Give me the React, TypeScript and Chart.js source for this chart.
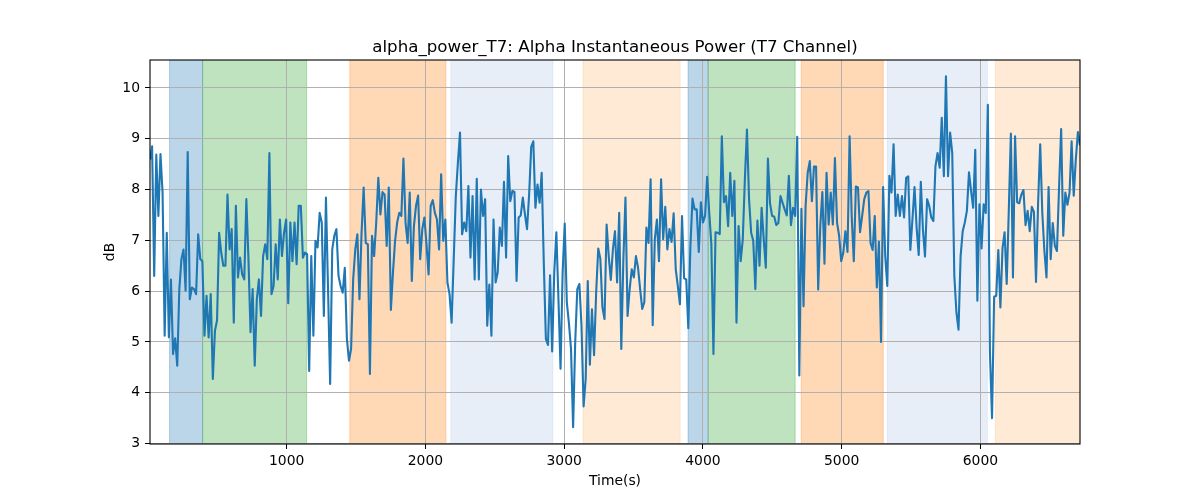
import React, { useEffect, useRef } from "react";
import { Chart, registerables } from "chart.js";

Chart.register(...registerables);

// time range of the recording (s)
const T_START = 15;
const T_END = 6718;

// alpha power, dB, evenly sampled from T_START to T_END
const ALPHA_DB = [
  8.59, 8.85, 6.30, 8.69, 7.48, 8.70, 7.94, 5.12, 7.15, 5.09, 6.23, 4.76, 5.07, 4.53, 6.04, 6.63, 6.82, 6.01, 8.74, 5.84,
  6.07, 6.04, 5.94, 7.12, 6.63, 6.59, 5.12, 5.91, 5.09, 5.94, 4.27, 5.22, 5.42, 7.15, 6.76, 6.50, 6.50, 7.90, 6.82, 7.22,
  5.38, 7.68, 6.27, 6.66, 6.33, 6.23, 7.81, 6.63, 5.19, 6.04, 4.53, 5.84, 6.23, 5.51, 6.69, 6.92, 6.63, 8.72,
  5.94, 6.10, 6.92, 6.23, 7.41, 6.69, 7.15, 7.41, 5.76, 7.35, 6.59, 7.35, 6.53, 7.68, 7.68, 6.66, 6.76, 6.73, 4.43, 6.69,
  5.12, 6.99, 6.86, 7.54, 7.35, 5.51, 7.84, 6.04, 4.17, 6.82, 7.09, 7.22, 6.30, 6.10, 5.97, 6.46, 5.06, 4.63, 4.86, 6.23,
  6.82, 7.12, 5.84, 7.15, 8.04, 6.95, 6.92, 4.37, 7.09, 6.69, 7.35, 8.23, 7.51, 7.95, 7.90, 6.89, 8.04,
  5.63, 6.37, 6.99, 7.35, 7.54, 7.48, 8.61, 7.35, 6.95, 7.94, 6.20, 7.28, 7.68, 7.88, 6.63, 7.22, 7.45, 6.92, 6.33, 7.68,
  7.79, 7.54, 7.41, 6.82, 8.30, 6.99, 7.41, 6.17, 5.94, 5.38, 6.63, 7.87, 8.53, 9.12, 7.12, 7.35, 7.18, 8.07, 6.66, 7.87,
  6.23, 8.21, 6.23, 8.00, 7.48, 7.81, 5.32, 6.13, 5.12, 7.41, 6.17, 6.37, 7.25, 6.89, 8.15, 6.66, 8.66,
  7.77, 7.97, 7.95, 6.20, 7.45, 7.49, 7.84, 7.51, 7.22, 7.90, 8.84, 8.95, 7.64, 8.10, 7.74, 8.33, 6.56, 5.06, 4.94, 6.31,
  4.81, 6.37, 7.16, 5.84, 4.47, 6.37, 7.33, 5.78, 5.37, 4.86, 3.32, 4.99, 6.04, 6.14, 5.32, 3.73, 4.27, 6.20, 4.55, 5.64,
  4.74, 5.97, 6.84, 6.64, 5.68, 5.45, 7.31, 6.69, 6.22, 6.82, 7.18, 6.17, 7.54, 4.86, 6.63, 7.84, 5.51,
  6.04, 6.43, 6.27, 6.69, 6.46, 6.04, 5.65, 5.78, 7.25, 6.95, 8.20, 5.33, 7.02, 7.41, 6.59, 8.20, 7.02, 7.66, 6.82, 7.22,
  6.97, 7.53, 6.43, 6.10, 5.74, 7.48, 6.25, 6.23, 5.27, 6.89, 7.82, 7.61, 7.61, 6.77, 7.75, 7.35, 7.48, 8.25, 7.54, 6.92,
  4.76, 7.16, 7.15, 7.12, 9.05, 7.75, 7.87, 7.28, 8.33, 7.48, 8.17, 5.38, 7.28, 6.59, 7.02, 8.20, 9.18, 7.81,
  7.15, 6.99, 6.04, 7.39, 6.50, 7.64, 7.02, 6.46, 8.61, 7.73, 7.48, 7.47, 7.30, 7.34, 7.87, 7.74, 7.61, 7.49, 8.27, 7.30,
  7.64, 7.48, 9.04, 4.34, 7.62, 5.70, 7.68, 8.33, 8.56, 7.77, 8.45, 8.45, 6.03, 7.28, 7.95, 6.54, 8.33, 7.31, 7.94, 7.31,
  8.62, 7.35, 7.09, 6.59, 6.76, 7.18, 6.77, 9.05, 7.48, 6.59, 8.06, 8.04, 7.16, 7.48, 7.81, 7.94, 7.97, 6.95,
  6.81, 7.48, 6.07, 6.97, 5.00, 8.05, 6.69, 6.10, 8.27, 7.94, 8.89, 7.48, 7.90, 7.48, 7.87, 7.45, 8.23, 8.26, 6.81, 7.41,
  8.05, 7.25, 6.71, 8.15, 7.22, 6.68, 7.81, 7.68, 7.45, 7.38, 8.46, 8.72, 8.43, 9.41, 8.26, 10.23, 8.26, 9.12, 8.72, 6.30,
  5.58, 5.24, 6.69, 7.18, 7.35, 7.58, 8.34, 7.97, 7.64, 8.78, 5.81, 7.71, 6.84, 7.71, 7.54, 9.67, 4.79,
  3.50, 5.89, 5.91, 6.81, 5.68, 6.84, 7.16, 6.14, 7.58, 9.10, 6.27, 9.05, 7.75, 7.73, 7.90, 7.99, 7.30, 7.58, 7.18, 7.66,
  7.56, 6.18, 7.74, 8.89, 7.54, 6.79, 6.27, 8.05, 6.63, 7.34, 6.89, 6.79, 8.04, 9.19, 7.09, 7.94, 7.70, 7.94, 8.95, 7.88,
  8.59, 9.13, 8.87,
];

const X_TICKS = [1000, 2000, 3000, 4000, 5000, 6000];
const Y_TICKS = [3, 4, 5, 6, 7, 8, 9, 10];

// shaded stages (s)
const SPAN_STARTS = [156, 394, 1455, 2183, 3136, 3893, 4038, 4709, 5329, 6108];
const SPAN_ENDS = [394, 1144, 2147, 2919, 3836, 4038, 4665, 5300, 6050, 6760];
const SPAN_KINDS = ["blue", "green", "orange", "lightblue", "lightorange", "blue", "green", "orange", "lightblue", "lightorange"];

const TITLE = "alpha_power_T7: Alpha Instantaneous Power (T7 Channel)";

const SPAN_COLORS: Record<string, string> = {
  blue: "rgba(31,119,180,0.3)",
  green: "rgba(44,160,44,0.3)",
  orange: "rgba(255,127,14,0.3)",
  lightblue: "rgba(174,199,232,0.3)",
  lightorange: "rgba(255,187,120,0.3)",
};

const FONT = "'DejaVu Sans', sans-serif";

const spanPlugin = {
  id: "spans",
  beforeDraw(chart: any) {
    const { ctx, chartArea, scales } = chart;
    const xs = scales.x;
    ctx.save();
    ctx.beginPath();
    ctx.rect(chartArea.left, chartArea.top, chartArea.right - chartArea.left, chartArea.bottom - chartArea.top);
    ctx.clip();
    SPAN_STARTS.forEach((s, i) => {
      const x0 = xs.getPixelForValue(s);
      const x1 = xs.getPixelForValue(SPAN_ENDS[i]);
      const col = SPAN_COLORS[SPAN_KINDS[i]];
      ctx.fillStyle = col;
      ctx.fillRect(x0, chartArea.top, x1 - x0, chartArea.bottom - chartArea.top);
      ctx.strokeStyle = col;
      ctx.lineWidth = 1;
      ctx.beginPath();
      ctx.moveTo(x0, chartArea.top);
      ctx.lineTo(x0, chartArea.bottom);
      ctx.moveTo(x1, chartArea.top);
      ctx.lineTo(x1, chartArea.bottom);
      ctx.stroke();
    });
    ctx.restore();
  },
};

// axes frame plus a title centred over the plot area, like matplotlib
const framePlugin = {
  id: "frame",
  afterDraw(chart: any) {
    const { ctx, chartArea } = chart;
    ctx.save();
    ctx.strokeStyle = "#000";
    ctx.lineWidth = 1.1;
    ctx.strokeRect(chartArea.left, chartArea.top, chartArea.right - chartArea.left, chartArea.bottom - chartArea.top);
    ctx.fillStyle = "#000";
    ctx.font = `16.67px ${FONT}`;
    ctx.textAlign = "center";
    ctx.textBaseline = "alphabetic";
    ctx.fillText(TITLE, (chartArea.left + chartArea.right) / 2, chartArea.top - 8.3);
    ctx.restore();
  },
};

const App = () => {
  const canvasRef = useRef<HTMLCanvasElement | null>(null);

  useEffect(() => {
    const ctx = canvasRef.current?.getContext("2d");
    if (!ctx) return;
    const step = (T_END - T_START) / (ALPHA_DB.length - 1);
    const points = ALPHA_DB.map((v, i) => ({ x: T_START + i * step, y: v }));

    const chart = new Chart(ctx, {
      type: "line",
      data: {
        datasets: [
          {
            data: points,
            borderColor: "#1f77b4",
            borderWidth: 2.1,
            pointRadius: 0,
            tension: 0,
            borderJoinStyle: "round",
            fill: false,
          },
        ],
      },
      options: {
        animation: false,
        responsive: true,
        maintainAspectRatio: false,
        layout: { padding: { left: 0, right: 120, top: 60, bottom: 0 } },
        plugins: {
          legend: { display: false },
          tooltip: { enabled: false },
          title: { display: false },
        },
        scales: {
          x: {
            type: "linear",
            min: T_START,
            max: T_END,
            afterBuildTicks: (axis: any) => {
              axis.ticks = X_TICKS.map((v) => ({ value: v }));
            },
            afterFit: (axis: any) => {
              axis.height = 56;
            },
            border: { display: false },
            grid: { color: "#b0b0b0", lineWidth: 1, drawTicks: true, tickLength: 5, tickColor: "#000" },
            ticks: {
              color: "#000",
              font: { family: FONT, size: 13.9 },
              padding: 4,
              maxRotation: 0,
              autoSkip: false,
              callback: (v: any) => String(v),
            },
            title: {
              display: true,
              text: "Time(s)",
              color: "#000",
              font: { family: FONT, size: 13.9, lineHeight: 1.2 },
              padding: { top: 0, bottom: 10.5 },
            },
          },
          y: {
            type: "linear",
            min: 2.99,
            max: 10.55,
            afterBuildTicks: (axis: any) => {
              axis.ticks = Y_TICKS.map((v) => ({ value: v }));
            },
            afterFit: (axis: any) => {
              axis.width = 150;
            },
            border: { display: false },
            grid: { color: "#b0b0b0", lineWidth: 1, drawTicks: true, tickLength: 5, tickColor: "#000" },
            ticks: {
              color: "#000",
              font: { family: FONT, size: 13.9 },
              padding: 5,
              autoSkip: false,
              callback: (v: any) => String(v),
            },
            title: {
              display: true,
              text: "dB",
              color: "#000",
              font: { family: FONT, size: 13.9, lineHeight: 1.2 },
              padding: { top: 102, bottom: 0 },
            },
          },
        },
      },
      plugins: [spanPlugin, framePlugin],
    });

    return () => {
      chart.destroy();
    };
  }, []);

  return (
    <div style={{ position: "absolute", left: 0, top: 0, width: 1200, height: 500, background: "#fff" }}>
      <canvas ref={canvasRef} />
    </div>
  );
};

export default App;
